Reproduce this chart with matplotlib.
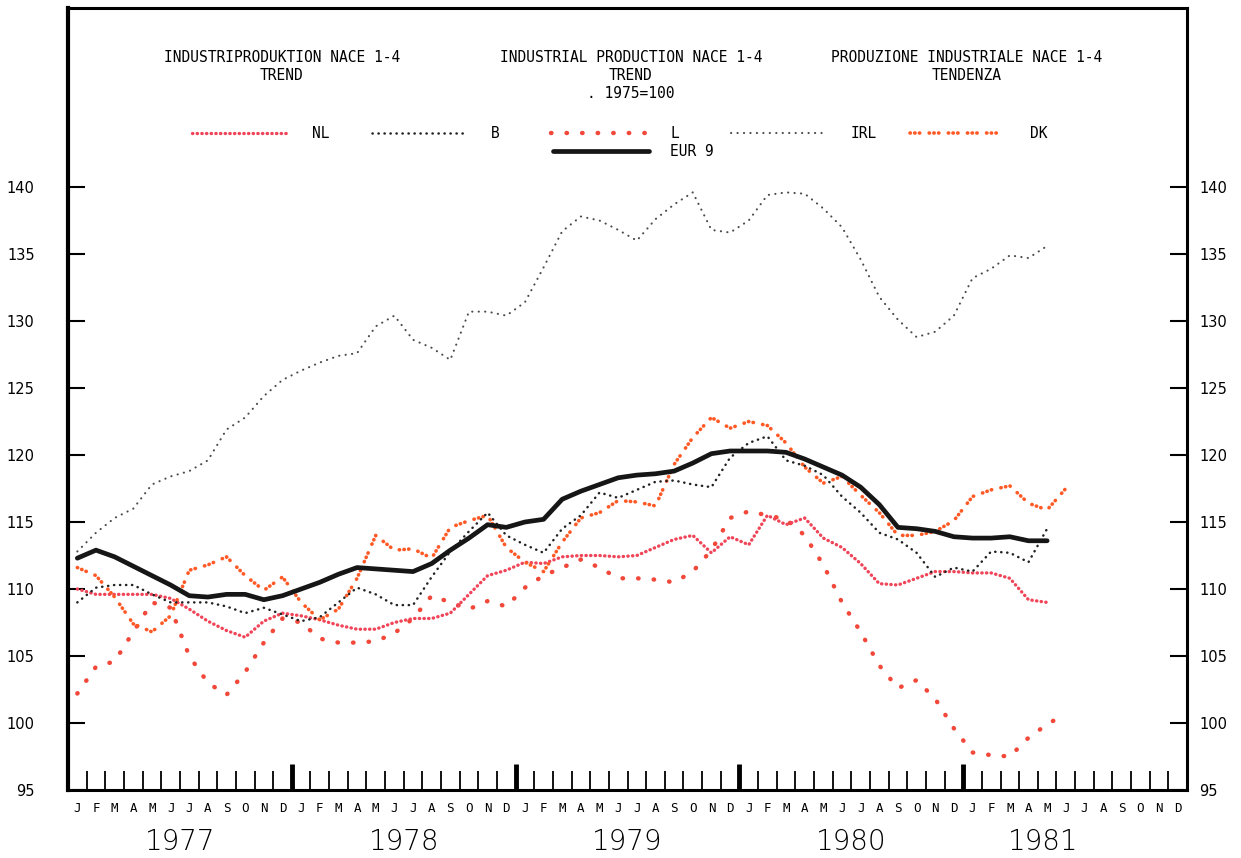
import numpy as np
import matplotlib
matplotlib.use("Agg")
import matplotlib.pyplot as plt
from matplotlib.lines import Line2D

# Monatswerte, Jan 1977 .. Mai/Jun 1981 (1975=100)
eur9 = [112.3, 112.9, 112.4, 111.7, 111.0, 110.3, 109.5, 109.4, 109.6, 109.6, 109.2, 109.5,
        110.0, 110.5, 111.1, 111.6, 111.5, 111.4, 111.3, 111.9, 112.9, 113.8, 114.8, 114.6,
        115.0, 115.2, 116.7, 117.3, 117.8, 118.3, 118.5, 118.6, 118.8, 119.4, 120.1, 120.3,
        120.3, 120.3, 120.2, 119.7, 119.1, 118.5, 117.6, 116.3, 114.6, 114.5, 114.3, 113.9,
        113.8, 113.8, 113.9, 113.6, 113.6]
bel = [109.0, 110.1, 110.3, 110.3, 109.6, 109.0, 109.0, 109.0, 108.7, 108.2, 108.6, 108.1,
       107.6, 107.9, 109.0, 110.1, 109.6, 108.8, 108.8, 110.9, 112.8, 114.3, 115.7, 114.0,
       113.3, 112.7, 114.5, 115.5, 117.2, 116.8, 117.4, 118.0, 118.1, 117.8, 117.6, 119.8,
       120.9, 121.4, 119.6, 119.2, 118.5, 116.9, 115.7, 114.2, 113.7, 112.7, 110.9, 111.6,
       111.3, 112.8, 112.7, 112.0, 114.5]
nl = [110.0, 109.6, 109.6, 109.6, 109.6, 109.3, 108.5, 107.6, 106.9, 106.4, 107.6, 108.2,
      108.0, 107.7, 107.3, 107.0, 107.0, 107.5, 107.8, 107.8, 108.2, 109.6, 111.0, 111.4,
      112.0, 111.9, 112.4, 112.5, 112.5, 112.4, 112.5, 113.1, 113.7, 114.0, 112.7, 113.9,
      113.3, 115.5, 114.8, 115.3, 113.8, 113.1, 111.9, 110.4, 110.3, 110.8, 111.3, 111.3,
      111.2, 111.2, 110.8, 109.2, 109.0]
irl = [112.8, 114.2, 115.3, 116.0, 117.8, 118.4, 118.8, 119.6, 121.9, 122.8, 124.4, 125.6,
       126.3, 126.9, 127.4, 127.6, 129.6, 130.4, 128.6, 128.0, 127.1, 130.7, 130.7, 130.4,
       131.4, 134.0, 136.7, 137.8, 137.5, 136.8, 136.0, 137.6, 138.7, 139.6, 136.8, 136.6,
       137.5, 139.4, 139.6, 139.5, 138.4, 137.0, 134.6, 131.8, 130.1, 128.8, 129.2, 130.4,
       133.2, 133.9, 134.9, 134.7, 135.6]
lux = [102.2, 104.2, 104.6, 106.8, 109.0, 108.6, 105.0, 103.0, 102.1, 103.8, 106.0, 107.8,
       107.5, 106.3, 106.0, 106.0, 106.1, 106.7, 107.8, 109.5, 109.0, 108.5, 109.1, 108.7,
       110.1, 111.0, 111.6, 112.2, 111.6, 110.8, 110.8, 110.7, 110.5, 111.3, 112.9, 115.3,
       115.8, 115.5, 115.2, 114.0, 111.8, 109.0, 106.8, 104.3, 102.6, 103.2, 101.8, 99.6,
       97.8, 97.6, 97.5, 98.9, 99.9, 100.7]
dk = [111.6, 111.0, 109.4, 107.4, 106.8, 108.0, 111.4, 111.8, 112.4, 111.0, 109.9, 110.9,
      109.0, 107.7, 108.5, 110.8, 114.0, 112.9, 113.0, 112.3, 114.6, 115.1, 115.5, 113.1,
      112.0, 111.3, 113.5, 115.3, 115.7, 116.6, 116.5, 116.2, 119.3, 121.3, 122.8, 122.0,
      122.5, 122.2, 120.9, 119.1, 117.9, 118.4, 117.0, 115.7, 114.0, 114.0, 114.3, 115.1,
      116.9, 117.4, 117.7, 116.4, 115.9, 117.5]

month_letters = list("JFMAMJJASOND") * 5
years = ["1977", "1978", "1979", "1980", "1981"]
year_pos = [5.5, 17.5, 29.5, 41.5, 51.8]
y_ticks = list(range(95, 141, 5))

mono = "DejaVu Sans Mono"

# Linienstile (Punktketten wie beim Plotter)
styles = {
    "IRL": dict(color="#4a4a4a", lw=1.5, dashes=(0.1, 3.0)),
    "L": dict(color="#f2483a", lw=3.2, dashes=(0.1, 3.4)),
    "NL": dict(color="#f04458", lw=2.4, dashes=(0.1, 1.3)),
    "DK": dict(color="#ff5a26", lw=2.6, dashes=(0.1, 1.2, 0.1, 1.2, 0.1, 2.6)),
    "B": dict(color="#222222", lw=1.8, dashes=(0.1, 2.3)),
    "EUR 9": dict(color="#161616", lw=3.4, dashes=None),
}


def draw(ax, x, y, key):
    st = styles[key]
    line, = ax.plot(x, y, color=st["color"], lw=st["lw"], solid_capstyle="round",
                    solid_joinstyle="round")
    if st["dashes"] is not None:
        line.set_dashes(st["dashes"])
        line.set_dash_capstyle("round")
    return line


def handle(key):
    st = styles[key]
    h = Line2D([], [], color=st["color"], lw=st["lw"], solid_capstyle="round")
    if st["dashes"] is not None:
        h.set_dashes(st["dashes"])
        h.set_dash_capstyle("round")
    return h


fig = plt.figure(figsize=(12.41, 8.58), dpi=100)
ax = fig.add_axes([68 / 1241, 1 - 790 / 858, 1119 / 1241, 782 / 858])
ax.set_xlim(-0.5, 59.5)
ax.set_ylim(95, 153.36)

x53 = np.arange(len(eur9))
x54 = np.arange(len(lux))

draw(ax, x53, irl, "IRL")
draw(ax, x54, lux, "L")
draw(ax, x53, nl, "NL")
draw(ax, x54, dk, "DK")
draw(ax, x53, bel, "B")
draw(ax, x53, eur9, "EUR 9")

for s in ax.spines.values():
    s.set_linewidth(2.2)
ax.spines["left"].set_linewidth(3.0)

# y-Achse links und rechts
ax.set_yticks(y_ticks)
ax.tick_params(axis="y", direction="in", length=12, width=1.5, pad=24, labelsize=10.5)
sec_y = ax.secondary_yaxis("right")
sec_y.set_yticks(y_ticks)
sec_y.tick_params(direction="in", length=12, width=1.5, pad=9, labelsize=10.5)

# x-Achse: Monatsbuchstaben, Monatsstriche, Jahresstriche
ax.set_xticks(np.arange(60))
ax.set_xticklabels(month_letters, fontfamily=mono, fontsize=9)
ax.tick_params(axis="x", which="major", length=0, pad=9)
ax.set_xticks(np.arange(0.5, 59, 1), minor=True)
ax.tick_params(axis="x", which="minor", direction="in", length=14, width=1.3)

sec_x = ax.secondary_xaxis("bottom")
sec_x.set_xticks([11.5, 23.5, 35.5, 47.5])
sec_x.tick_params(direction="in", length=19, width=3.5, labelbottom=False)

sec_year = ax.secondary_xaxis("bottom")
sec_year.set_xticks(year_pos)
sec_year.set_xticklabels(years)
sec_year.tick_params(length=0, pad=27, labelsize=20)
for lbl in sec_year.get_xticklabels():
    lbl.set_fontweight("light")

# Überschriften
heads = [
    (0.191, ["INDUSTRIPRODUKTION NACE 1-4", "TREND"]),
    (0.503, ["INDUSTRIAL PRODUCTION NACE 1-4", "TREND", ". 1975=100"]),
    (0.803, ["PRODUZIONE INDUSTRIALE NACE 1-4", "TENDENZA"]),
]
for xc, lines in heads:
    for k, txt in enumerate(lines):
        ax.text(xc, 0.937 - k * 0.023, txt, transform=ax.transAxes, ha="center",
                va="center", fontfamily=mono, fontsize=10.5)

# Legende
keys = ["NL", "B", "L", "IRL", "DK"]
leg1 = ax.legend([handle(k) for k in keys], [k.ljust(3) for k in keys],
                 loc="center", bbox_to_anchor=(0.497, 0.840), ncol=5, frameon=False,
                 prop={"family": mono, "size": 10.5}, handlelength=6.4,
                 handletextpad=1.8, columnspacing=2.3)
ax.add_artist(leg1)
ax.legend([handle("EUR 9")], ["EUR 9"], loc="center", bbox_to_anchor=(0.505, 0.817),
          frameon=False, prop={"family": mono, "size": 10.5}, handlelength=6.6,
          handletextpad=1.4)

fig.savefig("out.png", dpi=100)
